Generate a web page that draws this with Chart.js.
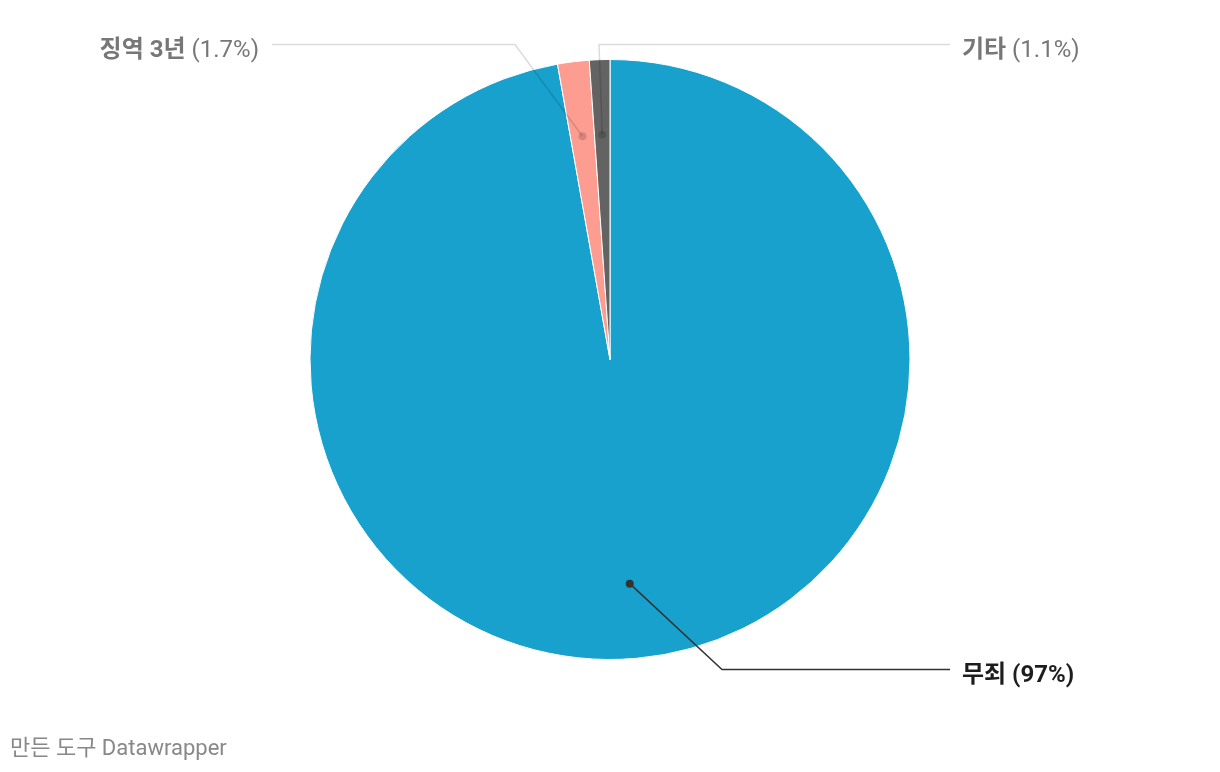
<!DOCTYPE html>
<html><head><meta charset="utf-8">
<script src="https://cdn.jsdelivr.net/npm/chart.js@4/dist/chart.umd.min.js"></script>
<style>
html,body{margin:0;padding:0;background:#fff;}
#wrap{position:relative;width:1220px;height:772px;}
#credit{position:absolute;left:10px;top:735px;font:22px Roboto,'Noto Sans CJK KR',sans-serif;line-height:26px;color:#888;}
</style></head>
<body>
<div id="wrap"><canvas id="c" width="1220" height="772"></canvas>
<div id="credit">만든 도구 Datawrapper</div></div>
<script>
const categories = ['무죄', '징역 3년', '기타'];
const values = [97.2, 1.7, 1.1];
const valueLabels = ['97%', '1.7%', '1.1%'];
const colors = ['#18a1cd', '#fd9d92', '#636363'];

const FONT = "Roboto, 'Noto Sans CJK KR', sans-serif";
const FS = 24;
// layout of label callouts (side, elbow x offset from centre, label row)
const callouts = [
  {side: 'right', elbowDx: 112, row: 'bottom', active: true},
  {side: 'left', elbowDx: -95, row: 'top', active: false},
  {side: 'right', elbowDx: -11, row: 'top', active: false}
];

const labelPlugin = {
  id: 'callouts',
  afterDatasetsDraw(chart) {
    const ctx = chart.ctx;
    const meta = chart.getDatasetMeta(0);
    meta.data.forEach((arc, i) => {
      const p = arc.getProps(['x','y','startAngle','endAngle','outerRadius'], true);
      const mid = (p.startAngle + p.endAngle) / 2;
      const r = p.outerRadius * 0.75;
      const ax = p.x + Math.cos(mid) * r;
      const ay = p.y + Math.sin(mid) * r;
      const c = callouts[i];
      const ly = c.row === 'top' ? p.y - p.outerRadius - 15 : p.y + p.outerRadius + 10;
      const ex = p.x + c.elbowDx;
      const endX = c.side === 'right' ? p.x + 340 : p.x - 338;
      ctx.save();
      ctx.strokeStyle = c.active ? '#333' : 'rgba(0,0,0,0.14)';
      ctx.lineWidth = 1.5;
      ctx.beginPath();
      ctx.moveTo(ax, ay);
      ctx.lineTo(ex, ly);
      ctx.lineTo(endX, ly);
      ctx.stroke();
      ctx.fillStyle = c.active ? '#333' : 'rgba(0,0,0,0.15)';
      ctx.beginPath();
      ctx.arc(ax, ay, 4, 0, Math.PI*2);
      ctx.fill();
      const boldTxt = categories[i];
      const normTxt = ' (' + valueLabels[i] + ')';
      ctx.fillStyle = c.active ? '#1d1d1d' : '#777';
      ctx.textBaseline = 'middle';
      const ty = ly + 6;
      ctx.font = 'bold ' + FS + 'px ' + FONT;
      const wb = ctx.measureText(boldTxt).width;
      ctx.font = (c.active ? 'bold ' : '') + FS + 'px ' + FONT;
      const wn = ctx.measureText(normTxt).width;
      const tx = c.side === 'right' ? p.x + 352 : p.x - 351 - wb - wn;
      ctx.textAlign = 'left';
      ctx.font = 'bold ' + FS + 'px ' + FONT;
      ctx.fillText(boldTxt, tx, ty);
      ctx.font = (c.active ? 'bold ' : '') + FS + 'px ' + FONT;
      ctx.fillText(normTxt, tx + wb, ty);
      ctx.restore();
    });
  }
};

new Chart(document.getElementById('c'), {
  type: 'pie',
  data: {
    labels: categories,
    datasets: [{
      data: values,
      backgroundColor: colors,
      borderColor: '#ffffff',
      borderWidth: 1
    }]
  },
  options: {
    responsive: false,
    animation: false,
    layout: {padding: {top: 59, bottom: 112, left: 0, right: 0}},
    plugins: {legend: {display: false}, tooltip: {enabled: false}}
  },
  plugins: [labelPlugin]
});
</script>
</body></html>
